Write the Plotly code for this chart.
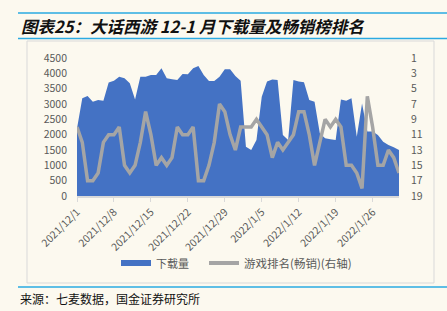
import plotly.graph_objects as go
import pandas as pd

# ---------------- data ----------------
dates = pd.date_range("2021-12-01", "2022-01-31", freq="D")

downloads = [2200, 3185, 3260, 3075, 3130, 3110, 3705, 3760, 3890, 3840,
             3675, 3150, 3890, 3890, 3945, 3945, 4165, 3840, 3805, 3780,
             3980, 3970, 4165, 4240, 3945, 3750, 3750, 3890, 4130, 4130,
             3910, 3760, 1610, 1500, 1825, 3240, 3730, 3800, 3780, 1990,
             1825, 3780, 3730, 3710, 3130, 3075, 2045, 1880, 1850, 1825,
             3150, 3110, 3185, 1935, 3020, 2100, 2100, 1990, 1770, 1660,
             1590, 1500]

rank = [10, 12, 17, 17, 16, 12, 11, 11, 10, 15,
        16, 15, 12, 8, 11, 15, 14, 15, 14, 10,
        11, 11, 10, 17, 17, 15, 12, 7, 8, 11,
        13, 10, 10, 10, 9, 10, 11, 14, 12, 13,
        12, 11, 8, 8, 11, 15, 12, 9, 10, 9,
        10, 15, 15, 16, 18, 6, 10, 15, 15, 13,
        14, 16]

tick_labels = ["2021/12/1", "2021/12/8", "2021/12/15", "2021/12/22",
               "2021/12/29", "2022/1/5", "2022/1/12", "2022/1/19", "2022/1/26"]
left_ticks = list(range(0, 4501, 500))
right_ticks = list(range(1, 20, 2))

series_names = ["下载量", "游戏排名(畅销)(右轴)"]
title_text = "图表25：大话西游 12-1 月下载量及畅销榜排名"
source_text = "来源：七麦数据，国金证券研究所"

# ---------------- layout helpers ----------------
W, H = 447, 311
L, R, T, B = 77, 399, 58, 196
BG = "#FCF9EF"
BLUE = "#4472C4"
GREY = "#A5A5A5"
LINE_BLUE = "#2AAAE2"
FONT = "Noto Sans CJK SC"


def px(x):
    return (x - L) / (R - L)


def py(y):
    return (B - y) / (B - T)


fig = go.Figure()
fig.add_trace(go.Scatter(x=dates, y=downloads, mode="none", fill="tozeroy",
                         fillcolor=BLUE, name=series_names[0], showlegend=False))
fig.add_trace(go.Scatter(x=dates, y=rank, mode="lines", yaxis="y2",
                         line=dict(color=GREY, width=3.5), name=series_names[1],
                         showlegend=False))

tickfont = dict(family=FONT, size=10.5, color="#595959")

shapes = [
    dict(type="line", xref="paper", yref="paper", x0=px(18), x1=px(447),
         y0=py(13), y1=py(13), line=dict(color=LINE_BLUE, width=1.5)),
    dict(type="line", xref="paper", yref="paper", x0=px(18), x1=px(447),
         y0=py(38.5), y1=py(38.5), line=dict(color=LINE_BLUE, width=1.5)),
    dict(type="rect", xref="paper", yref="paper", x0=px(27), x1=px(434),
         y0=py(41), y1=py(283), line=dict(color="#D9D9D9", width=1),
         layer="below"),
    dict(type="line", xref="paper", yref="paper", x0=px(18), x1=px(447),
         y0=py(287), y1=py(287), line=dict(color=LINE_BLUE, width=1.5)),
    # legend swatches
    dict(type="rect", xref="paper", yref="paper", x0=px(121), x1=px(151),
         y0=py(260), y1=py(266), line=dict(width=0), fillcolor=BLUE),
    dict(type="line", xref="paper", yref="paper", x0=px(209), x1=px(239),
         y0=py(263), y1=py(263), line=dict(color=GREY, width=4)),
]

annotations = [
    dict(xref="paper", yref="paper", x=px(19), y=py(25.5), xanchor="left",
         yanchor="middle", showarrow=False,
         text="<b><i>" + title_text + "</i></b>",
         font=dict(family=FONT, size=16.5, color="#111111")),
    dict(xref="paper", yref="paper", x=px(18), y=py(298.5), xanchor="left",
         yanchor="middle", showarrow=False, text=source_text,
         font=dict(family=FONT, size=12, color="#111111")),
    dict(xref="paper", yref="paper", x=px(154), y=py(263), xanchor="left",
         yanchor="middle", showarrow=False, text=series_names[0],
         font=dict(family=FONT, size=11, color="#595959")),
    dict(xref="paper", yref="paper", x=px(242), y=py(263), xanchor="left",
         yanchor="middle", showarrow=False, text=series_names[1],
         font=dict(family=FONT, size=11.5, color="#595959")),
]

fig.update_layout(
    width=W, height=H,
    margin=dict(l=L, r=W - R, t=T, b=H - B, pad=0, autoexpand=False),
    paper_bgcolor=BG, plot_bgcolor=BG,
    showlegend=False,
    xaxis=dict(type="date", range=[dates[0], dates[-1]],
               tickvals=list(dates[::7]), ticktext=tick_labels,
               tickangle=-45, ticks="outside", ticklen=4, tickcolor="#D9D9D9",
               showline=True, linecolor="#D9D9D9", linewidth=1.5,
               showgrid=False, zeroline=False, tickfont=tickfont),
    yaxis=dict(range=[0, 4500], tickvals=left_ticks, showgrid=False,
               zeroline=False, showline=False, ticks="",
               ticklabelstandoff=9, tickfont=tickfont),
    yaxis2=dict(overlaying="y", side="right", range=[19, 1],
                tickvals=right_ticks, showgrid=False, zeroline=False,
                showline=False, ticks="", ticklabelstandoff=11,
                tickfont=tickfont),
    shapes=shapes,
    annotations=annotations,
)

fig.write_html("out.html")
